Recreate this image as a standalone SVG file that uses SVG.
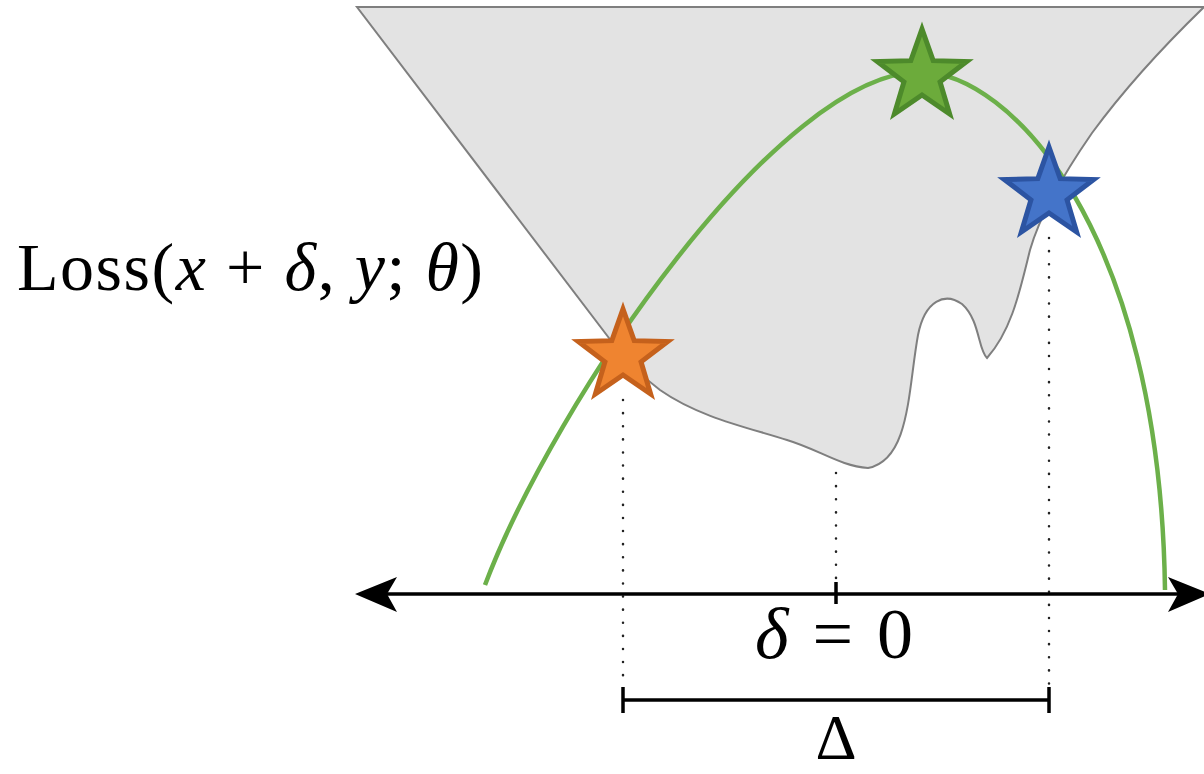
<svg xmlns="http://www.w3.org/2000/svg" width="1204" height="774" viewBox="0 0 1204 774">
<style>
.region{fill:#e3e3e3;stroke:#7f7f7f;stroke-width:2}
.curve{fill:none;stroke:#6cb04a;stroke-width:4.5;stroke-linecap:butt}
.dots{fill:none;stroke:#222;stroke-width:2.5;stroke-dasharray:0.1 13;stroke-linecap:round}
.axis{fill:none;stroke:#000;stroke-width:3.5}
.star{stroke-width:5;stroke-linejoin:miter}
.tex{font-family:"Liberation Serif","Times New Roman",serif;fill:#000}
.it{font-style:italic}
</style>
<defs>
<polygon id="starShape" points="0,-47 11.17,-15.37 44.70,-14.52 18.07,5.87 27.63,38.02 0,19 -27.63,38.02 -18.07,5.87 -44.70,-14.52 -11.17,-15.37"/>
</defs>
<rect width="1204" height="774" fill="#ffffff"/>
<g id="region">
<path class="region" d="M357,7 L1204,7 C1170,40 1125,88 1092,133 C1065,172 1040,215 1030,250 C1020,290 1012,330 987,358 C978,350 980,320 962,304 C945,292 925,300 918,335 C908,390 910,460 868,468 C840,466 820,450 787,440 C750,428 700,418 660,390 C640,375 625,360 612,342 Z"/>
</g>
<g id="lossCurve">
<path class="curve" d="M485,585 C555,400 780,72 920,72 C1010,72 1160,230 1165,590"/>
</g>
<g id="connectors">
<line class="dots" x1="623" y1="400" x2="623" y2="687"/>
<line class="dots" x1="836" y1="473" x2="836" y2="582"/>
<line class="dots" x1="1049" y1="238" x2="1049" y2="687"/>
<line class="axis" x1="380" y1="594" x2="1190" y2="594"/>
<polygon points="355,594 397,577 387,594 397,612" fill="#000"/>
<polygon points="1210,594 1168,577 1178,594 1168,612" fill="#000"/>
<line class="axis" x1="836" y1="582" x2="836" y2="604"/>
<line class="axis" x1="623" y1="700" x2="1049" y2="700"/>
<line class="axis" x1="623" y1="687" x2="623" y2="713"/>
<line class="axis" x1="1049" y1="687" x2="1049" y2="713"/>
</g>
<g id="starOrange">
<use href="#starShape" class="star" transform="translate(623,356)" fill="#ef8430" stroke="#c5611c"/>
</g>
<g id="starGreen">
<use href="#starShape" class="star" transform="translate(922,76)" fill="#6cab3b" stroke="#4d8a2b"/>
</g>
<g id="starBlue">
<use href="#starShape" class="star" transform="translate(1049,194)" fill="#4474c9" stroke="#2c54a2"/>
</g>
<g id="labels">
<text class="tex" x="17" y="290" font-size="68" textLength="466" lengthAdjust="spacing">Loss(<tspan class="it">x</tspan> + <tspan class="it">δ</tspan>, <tspan class="it">y</tspan>; <tspan class="it">θ</tspan>)</text>
<text class="tex" x="755" y="658" font-size="72" textLength="158" lengthAdjust="spacing"><tspan class="it">δ</tspan> = 0</text>
<text class="tex" x="836" y="759" font-size="64" text-anchor="middle">Δ</text>
</g>
</svg>
